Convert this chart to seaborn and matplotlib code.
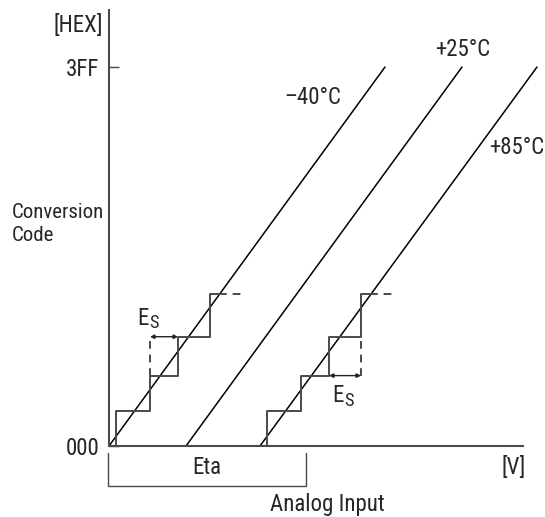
import numpy as np
import pandas as pd
import seaborn as sns
import matplotlib
matplotlib.use("Agg")
import matplotlib.pyplot as plt

sns.set_style("white")
plt.rcParams['font.family'] = ['Roboto Condensed', 'Roboto', 'DejaVu Sans']

# Datos (unidades arbitrarias; codigo en decimal, 3FF = 1023)
codigo_max = 0x3FF
temperaturas = ['–40°C', '+25°C', '+85°C']
x_inicio = [0, 77, 151]        # entrada donde la recta corta 000
x_fin = [276, 353, 428]        # entrada donde la recta llega a 3FF

# Escalera de cuantizacion (relativa al inicio de cada recta)
escalon_x = [7, 41, 69, 101]
escalon_codigo = [95, 190, 295, 410]
fin_solido = 110
fin_discontinuo = 134

eta_x = [-1, 197]

fs = 16.5
fig = plt.figure(figsize=(5.45, 5.17), dpi=100)
W, H = 545, 517
ax = fig.add_axes([109 / W, (H - 446) / H, 414 / W, 436 / H])
K = codigo_max / 379
ax.set_xlim(0, 414)
ax.set_ylim(0, 436 * K)

gris = '#4a4a4a'

# Rectas de conversion
for nombre, x0, x1 in zip(temperaturas, x_inicio, x_fin):
    df = pd.DataFrame({'entrada': [x0, x1], 'codigo': [0, codigo_max]})
    sns.lineplot(data=df, x='entrada', y='codigo', ax=ax, color='black',
                 linewidth=1.1, estimator=None, sort=False, clip_on=False)

# Escaleras para -40 y +85
for desp in [x_inicio[0], x_inicio[2]]:
    xs = [escalon_x[0]] + escalon_x + [fin_solido]
    ys = [0] + escalon_codigo + [escalon_codigo[-1]]
    df = pd.DataFrame({'entrada': np.array(xs) + desp, 'codigo': ys})
    sns.lineplot(data=df, x='entrada', y='codigo', ax=ax, color=gris,
                 linewidth=1.4, estimator=None, sort=False, drawstyle='steps-post')
    ax.plot([fin_solido + desp, fin_discontinuo + desp],
            [escalon_codigo[-1]] * 2, color=gris, lw=1.4, ls=(0, (4, 3)))


def etiqueta_es(x, y):
    # E con subindice S
    ax.text(x - 3, y, 'E', fontsize=fs, ha='right', va='center')
    ax.text(x - 3, y - 14, 'S', fontsize=fs * 0.8, ha='left', va='center')


# E_S izquierda: linea discontinua y flecha
ax.plot([escalon_x[1]] * 2, [escalon_codigo[1], escalon_codigo[2]],
        color=gris, lw=1.4, ls=(0, (4, 3)))
ax.annotate('', xy=(escalon_x[2], escalon_codigo[2]), xytext=(escalon_x[1], escalon_codigo[2]),
            arrowprops=dict(arrowstyle='<|-|>', color='#222222', lw=1.0,
                            mutation_scale=6, shrinkA=0, shrinkB=0))
etiqueta_es(43, 345)

# E_S derecha
d = x_inicio[2]
ax.plot([escalon_x[3] + d] * 2, [escalon_codigo[1], escalon_codigo[2]],
        color=gris, lw=1.4, ls=(0, (4, 3)))
ax.annotate('', xy=(escalon_x[3] + d, escalon_codigo[1]), xytext=(escalon_x[2] + d, escalon_codigo[1]),
            arrowprops=dict(arrowstyle='<|-|>', color='#222222', lw=1.0,
                            mutation_scale=6, shrinkA=0, shrinkB=0))
etiqueta_es(238, 135)

# Etiquetas de temperatura
ax.text(204, 942, temperaturas[0], fontsize=fs, ha='center', va='center')
ax.text(354, 1069, temperaturas[1], fontsize=fs, ha='center', va='center')
ax.text(435, 807, temperaturas[2], fontsize=fs, ha='right', va='center', clip_on=False)

# Ejes
sns.despine(ax=ax)
for s in ['left', 'bottom']:
    ax.spines[s].set_color(gris)
    ax.spines[s].set_linewidth(1.5)
ax.set_xticks([])
ax.set_yticks([0, codigo_max])
ax.set_yticklabels(['000', '3FF'], fontsize=fs)
ax.tick_params(axis='y', direction='in', length=7, width=1.0, color=gris, pad=7, left=True)
ax.set_xlabel('')
ax.set_ylabel('')

ax.text(-6, 1136, '[HEX]', fontsize=fs, ha='right', va='center', clip_on=False)
ax.text(-97, 600, 'Conversion\nCode', fontsize=15, ha='left', va='center',
        linespacing=1.25, clip_on=False)

# Corchete Eta y rotulos del eje x
ax.plot([eta_x[0], eta_x[0], eta_x[1], eta_x[1]], [-19, -108, -108, -19],
        color=gris, lw=1.0, clip_on=False)
ax.text(98, -57, 'Eta', fontsize=fs, ha='center', va='center', clip_on=False)
ax.text(405, -57, '[V]', fontsize=fs, ha='center', va='center', clip_on=False)
ax.text(218, -159, 'Analog Input', fontsize=fs, ha='center', va='center', clip_on=False)

fig.savefig('out.png', dpi=100)
